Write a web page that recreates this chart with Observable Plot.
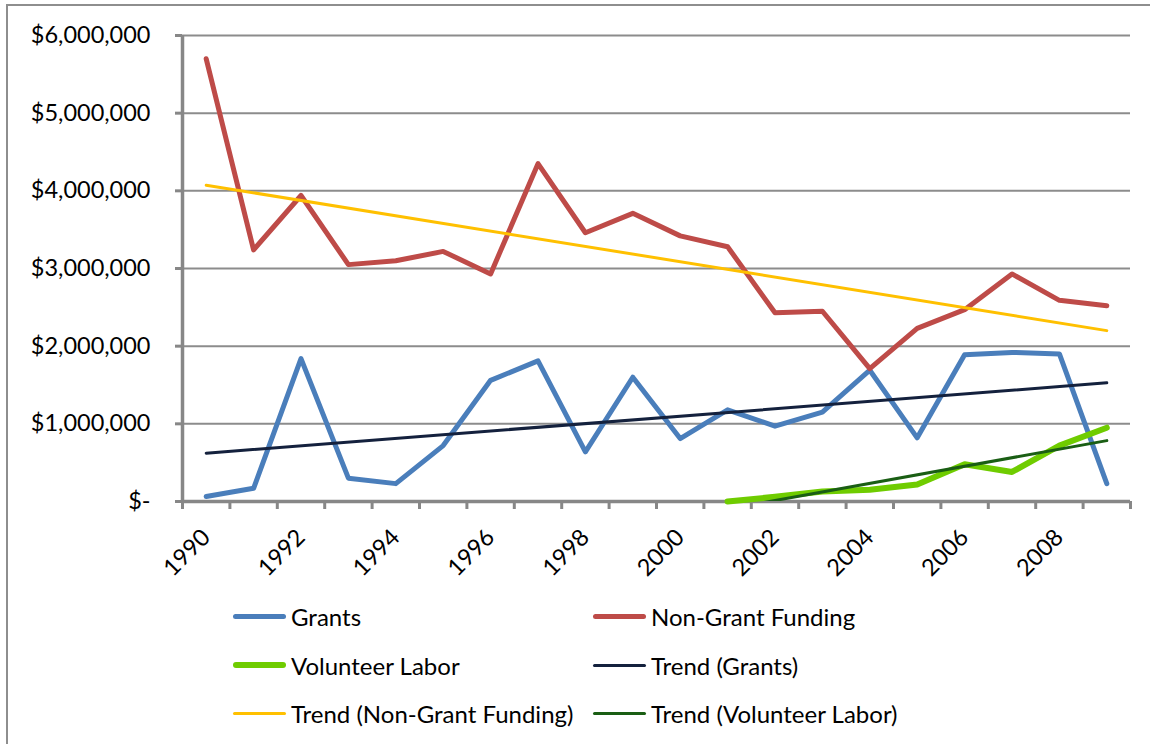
<!DOCTYPE html>
<html>
<head>
<meta charset="utf-8">
<script src="https://cdn.jsdelivr.net/npm/d3@7"></script>
<script src="https://cdn.jsdelivr.net/npm/@observablehq/plot@0.6"></script>
<style>
  html, body { margin: 0; padding: 0; background: #fff; overflow: hidden; }
  #wrap { position: relative; width: 1150px; height: 744px; font-family: Lato, sans-serif; }
  #border { position: absolute; left: 6px; top: 4px; width: 1200px; height: 800px; border: 2px solid #8e8e8e; box-sizing: border-box; }
  #chart { position: absolute; left: 0; top: 0; }
  .item { position: absolute; height: 30px; display: flex; align-items: center; font-size: 24px; color: #000; white-space: nowrap; }
  .sw { width: 53px; border-radius: 3px; margin-right: 5px; }
</style>
</head>
<body>
<div id="wrap">
  <div id="border"></div>
  <div id="chart"></div>
  <div id="legend"></div>
</div>
<script>
// ---- data ----
const years = [1990, 1991, 1992, 1993, 1994, 1995, 1996, 1997, 1998, 1999, 2000, 2001, 2002, 2003, 2004, 2005, 2006, 2007, 2008, 2009];
const grants = [65000, 170000, 1840000, 300000, 230000, 720000, 1560000, 1810000, 640000, 1600000, 810000, 1180000, 970000, 1150000, 1690000, 820000, 1890000, 1920000, 1900000, 230000];
const nonGrant = [5700000, 3240000, 3940000, 3050000, 3100000, 3220000, 2930000, 4350000, 3460000, 3710000, 3420000, 3280000, 2430000, 2450000, 1710000, 2230000, 2470000, 2930000, 2590000, 2520000];
const volunteerYears = [2001, 2002, 2003, 2004, 2005, 2006, 2007, 2008, 2009];
const volunteer = [0, 60000, 130000, 150000, 220000, 480000, 380000, 720000, 950000];
const labelYears = [1990, 1992, 1994, 1996, 1998, 2000, 2002, 2004, 2006, 2008];
const yTicks = [0, 1000000, 2000000, 3000000, 4000000, 5000000, 6000000];

const seriesNames = ["Grants", "Non-Grant Funding", "Volunteer Labor", "Trend (Grants)", "Trend (Non-Grant Funding)", "Trend (Volunteer Labor)"];
const seriesColors = ["#4a7ebb", "#be4b48", "#6fcc00", "#14213d", "#ffc000", "#1a5e14"];
const seriesWidths = [5, 5, 6, 3, 3, 3];

const grantsData = years.map((y, i) => ({year: y, value: grants[i]}));
const nonGrantData = years.map((y, i) => ({year: y, value: nonGrant[i]}));
const volunteerData = volunteerYears.map((y, i) => ({year: y, value: volunteer[i]}));
const boundaries = years.map(y => y - 0.5).concat([years[years.length - 1] + 0.5]);

const fmt = d => d === 0 ? "$-" : "$" + d3.format(",")(d);
const axisGray = "#878787";

const chart = Plot.plot({
  width: 1150,
  height: 590,
  marginLeft: 182,
  marginRight: 20,
  marginTop: 35,
  marginBottom: 89,
  style: {fontFamily: "Lato, sans-serif", fontSize: "23px", color: "#000", background: "transparent", overflow: "visible"},
  x: {domain: [boundaries[0], boundaries[boundaries.length - 1]], axis: null},
  y: {domain: [0, 6000000], axis: null},
  marks: [
    Plot.ruleY(yTicks.slice(1), {stroke: "#8c8c8c", strokeWidth: 2}),
    Plot.axisY({ticks: yTicks, tickSize: 7, tickPadding: 25, tickFormat: fmt, stroke: axisGray, strokeWidth: 3, fontSize: 23.5, label: null}),
    Plot.axisX({ticks: boundaries, tickSize: 8, tickFormat: () => "", stroke: axisGray, strokeWidth: 3, label: null}),
    Plot.ruleX([boundaries[0]], {stroke: axisGray, strokeWidth: 3.5}),
    Plot.ruleY([0], {stroke: axisGray, strokeWidth: 3.5}),
    Plot.text(labelYears, {x: d => d, frameAnchor: "bottom", dy: 32, rotate: -45, textAnchor: "end", lineAnchor: "middle", text: d => String(d), fontSize: 23.5, fill: "#000"}),
    Plot.line(grantsData, {x: "year", y: "value", stroke: seriesColors[0], strokeWidth: seriesWidths[0], strokeLinejoin: "round", strokeLinecap: "round"}),
    Plot.line(nonGrantData, {x: "year", y: "value", stroke: seriesColors[1], strokeWidth: seriesWidths[1], strokeLinejoin: "round", strokeLinecap: "round"}),
    Plot.line(volunteerData, {x: "year", y: "value", stroke: seriesColors[2], strokeWidth: seriesWidths[2], strokeLinejoin: "round", strokeLinecap: "round"}),
    Plot.linearRegressionY(grantsData, {x: "year", y: "value", ci: 0, stroke: seriesColors[3], strokeWidth: seriesWidths[3]}),
    Plot.linearRegressionY(nonGrantData, {x: "year", y: "value", ci: 0, stroke: seriesColors[4], strokeWidth: seriesWidths[4]}),
    Plot.linearRegressionY(volunteerData, {x: "year", y: "value", ci: 0, stroke: seriesColors[5], strokeWidth: seriesWidths[5], clip: true})
  ]
});
document.getElementById("chart").appendChild(chart);

// ---- legend ----
const legend = document.getElementById("legend");
const colX = [233, 593];
const rowY = [616, 665, 713];
seriesNames.forEach((name, i) => {
  const item = document.createElement("div");
  item.className = "item";
  item.style.left = colX[i % 2] + "px";
  item.style.top = (rowY[Math.floor(i / 2)] - 15) + "px";
  const sw = document.createElement("div");
  sw.className = "sw";
  sw.style.height = seriesWidths[i] + "px";
  sw.style.background = seriesColors[i];
  const label = document.createElement("span");
  label.textContent = name;
  item.appendChild(sw);
  item.appendChild(label);
  legend.appendChild(item);
});
</script>
</body>
</html>
